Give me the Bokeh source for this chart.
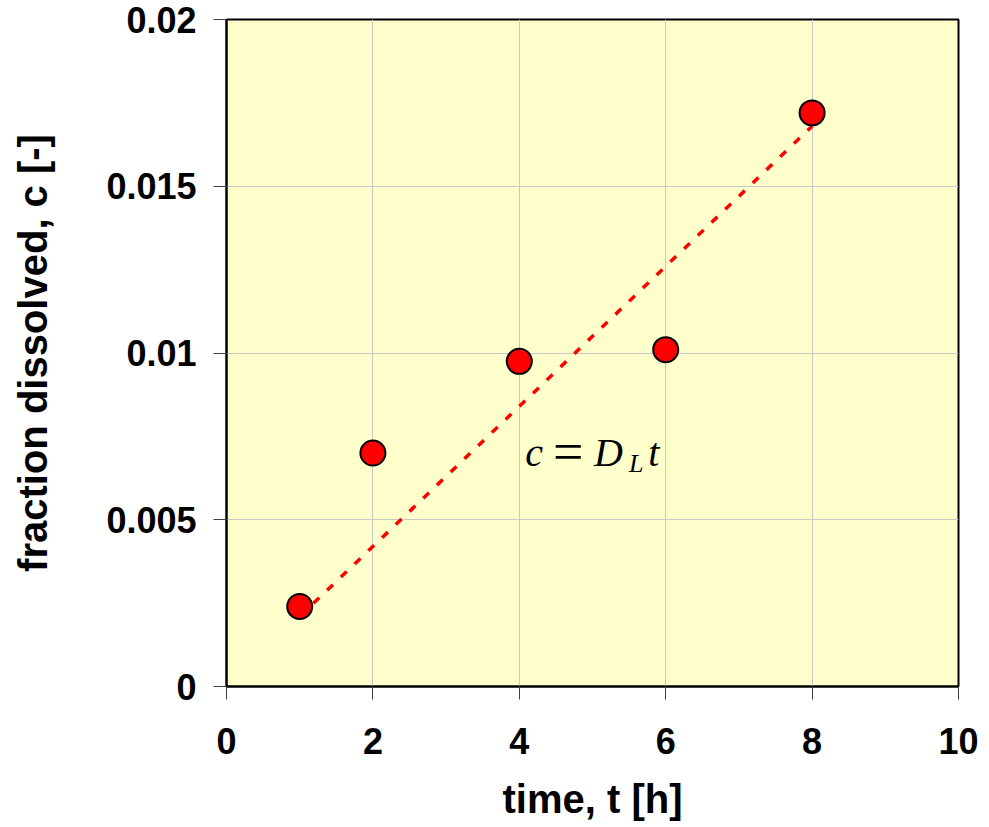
from bokeh.plotting import figure
from bokeh.models import Range1d, FixedTicker, Label
from bokeh.embed import file_html
from bokeh.resources import INLINE

# data
time_h = [1, 2, 4, 6, 8]
fraction = [0.0024, 0.0070, 0.00975, 0.0101, 0.0172]
D_L = 0.0021
fit_t = [1, 8]
fit_c = [D_L * t for t in fit_t]
x_ticks = [0, 2, 4, 6, 8, 10]
y_ticks = [0, 0.005, 0.01, 0.015, 0.02]
y_tick_labels = ["0", "0.005", "0.01", "0.015", "0.02"]

FONT = "Liberation Sans"
SERIF = "Liberation Serif"

p = figure(width=989, height=827, output_backend="svg", toolbar_location=None,
           x_range=Range1d(0, 10), y_range=Range1d(0, 0.02),
           min_border_left=226, min_border_right=31, min_border_top=19,
           min_border_bottom=141)

p.background_fill_color = "#ffffcc"
p.border_fill_color = "white"
p.outline_line_color = "black"
p.outline_line_width = 2

p.xaxis.ticker = FixedTicker(ticks=x_ticks)
p.yaxis.ticker = FixedTicker(ticks=y_ticks)
p.yaxis.major_label_overrides = {t: s for t, s in zip(y_ticks, y_tick_labels)}
p.xaxis.major_label_overrides = {t: str(t) for t in x_ticks}

for ax in (p.xaxis, p.yaxis):
    ax.axis_line_color = "black"
    ax.axis_line_width = 2
    ax.major_tick_line_color = "#404040"
    ax.major_tick_line_width = 1
    ax.major_tick_in = 0
    ax.major_tick_out = 13
    ax.minor_tick_line_color = None
    ax.major_label_text_font = FONT
    ax.major_label_text_font_style = "bold"
    ax.major_label_text_font_size = "36px"
    ax.major_label_text_color = "black"
    ax.axis_label_text_font = FONT
    ax.axis_label_text_font_style = "bold"
    ax.axis_label_text_font_size = "40px"
    ax.axis_label_text_color = "black"

p.xaxis.major_label_standoff = 28
p.yaxis.major_label_standoff = 17
p.xaxis.axis_label = "time, t [h]"
p.yaxis.axis_label = "fraction dissolved, c [-]"
p.xaxis.axis_label_standoff = 20
p.yaxis.axis_label_standoff = 48

p.xgrid.ticker = FixedTicker(ticks=x_ticks)
p.ygrid.ticker = FixedTicker(ticks=y_ticks)
p.grid.grid_line_color = "#c8c8c8"
p.grid.grid_line_width = 1

p.line(fit_t, fit_c, line_color="red", line_width=3.5, line_dash="8 11")
p.scatter(time_h, fraction, size=25, fill_color="red", line_color="black",
          line_width=2)

# equation c = D_L t
eq_y = 0.00703
common = dict(text_font=SERIF, text_color="black", text_baseline="alphabetic",
              text_align="left")
p.add_layout(Label(x=4.08, y=eq_y, text="c", text_font_size="40px",
                   text_font_style="italic", **common))
p.add_layout(Label(x=4.46, y=eq_y, text="=", text_font_size="54px", **common))
p.add_layout(Label(x=5.02, y=eq_y, text="D", text_font_size="40px",
                   text_font_style="italic", **common))
p.add_layout(Label(x=5.50, y=0.00668, text="L", text_font_size="26px",
                   text_font_style="italic", **common))
p.add_layout(Label(x=5.76, y=eq_y, text="t", text_font_size="40px",
                   text_font_style="italic", **common))

open("out.html", "w").write(file_html(p, INLINE))
